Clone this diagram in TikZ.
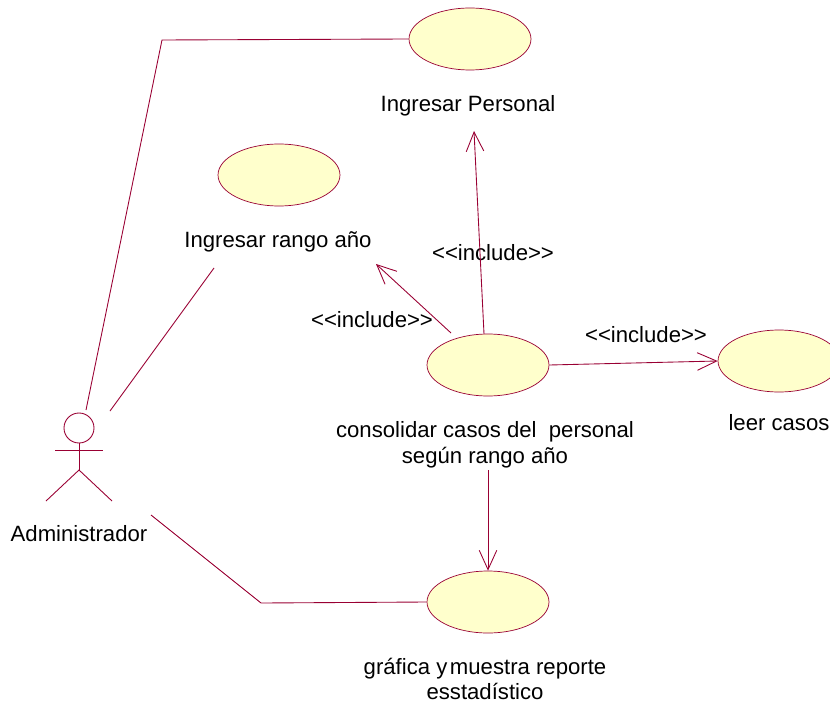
\documentclass[tikz,border=0pt]{standalone}
\usepackage{fontspec}
\setmainfont{Liberation Sans}
\usetikzlibrary{shapes.geometric,arrows.meta}
\definecolor{umlline}{HTML}{990033}
\definecolor{umlfill}{HTML}{FFFFCC}
\tikzset{
  usecase/.style={draw=umlline, fill=umlfill, ellipse, inner sep=0pt, minimum width=2.44cm, minimum height=1.24cm},
  link/.style={draw=umlline, line width=0.5pt},
  dep/.style={link, -{Straight Barb[length=11pt,width=10pt,line width=0.5pt]}},
  txt/.style={align=center, inner sep=0pt, font=\fontsize{12.6}{14.7}\selectfont},
}
\begin{document}
\begin{tikzpicture}[x=0.02cm,y=-0.02cm]
\clip (0,0) rectangle (830,702);

\node[usecase] (personal) at (470,39) {};
\node[usecase] (rango) at (279,175) {};
\node[usecase] (consolidar) at (488,365) {};
\node[usecase] (leer) at (779,361) {};
\node[usecase] (grafica) at (488,602) {};

\node[txt] (personalt) at (468,106) {Ingresar Personal};
\node[txt] (rangot) at (278,242) {Ingresar rango año};
\node[txt] (consolidart) at (485,445) {consolidar casos del\ \ personal\\según rango año};
\node[txt] (leert) at (779,423) {leer casos};
\node[txt] (graficat) at (485,679) {gráfica y\kern-2pt\ muestra reporte\\esstadístico};
\node[txt] (admint) at (79,534) {Administrador};

\node[txt] (inc1) at (493,253) {<{}<include>{}>};
\node[txt] (inc2) at (372,320) {<{}<include>{}>};
\node[txt] (inc3) at (646,335) {<{}<include>{}>};

% actor
\node[link, circle, inner sep=0pt, minimum size=0.6cm] (head) at (79,428) {};
\coordinate (hip) at (79,470);
\draw[link] (head.south) -- (hip);
\draw[link] (55,450) -- (103,450);
\draw[link] (46,501) -- (hip) -- (112,501);

\coordinate (a1) at (86,410);
\coordinate (a2) at (110,411);
\coordinate (a3) at (151,515);
\coordinate (b1) at (214,268);
\coordinate (c1) at (474,131);
\coordinate (c2) at (376,264);
\coordinate (c3) at (488,470);

\draw[link] (a1) -- (162,40) -- (personal.west);
\draw[link] (a2) -- (b1);
\draw[link] (a3) -- (261,603) -- (grafica.west);

\draw[dep] (484,334) -- (c1);
\draw[dep] (451,333) -- (c2);
\draw[dep] (consolidar.east) -- (leer.west);
\draw[dep] (c3) -- (grafica.north);
\end{tikzpicture}
\end{document}
